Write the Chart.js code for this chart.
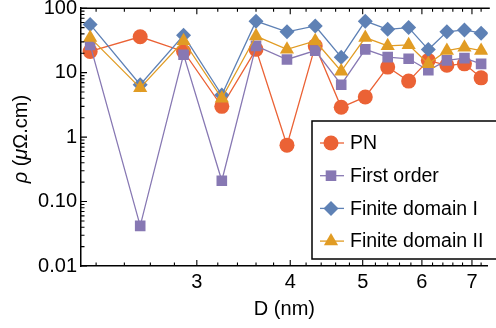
<!DOCTYPE html>
<html lang="en">
<head>
<meta charset="UTF-8">
<title>Resistividade vs D</title>
<script src="https://cdn.jsdelivr.net/npm/chart.js"></script>
<style>
    html, body { margin: 0; padding: 0; background: #fff; }
    #caixa { width: 496px; height: 328px; }
</style>
</head>
<body>
<div id="caixa"><canvas id="grafico"></canvas></div>
<script>
    // D (nm)
    var diametros = [2.16, 2.52, 2.88, 3.24, 3.60, 3.96, 4.32, 4.68, 5.04, 5.40, 5.76, 6.12, 6.48, 6.84, 7.20]

    // rho (uOhm.cm) por serie
    var pn = [21.3, 36, 21.3, 3.0, 23, 0.75, 26, 2.9, 4.2, 12.2, 7.4, 15.5, 13, 13.7, 8.3]
    var primeiraOrdem = [27, 0.042, 19, 0.21, 26, 16, 22, 6.5, 23, 17.4, 16.4, 10.9, 15.5, 16.8, 13.7]
    var dominioFinito1 = [56, 6.5, 38, 4.5, 63, 43, 53, 17.4, 63, 47, 50, 22.8, 43, 46, 41]
    var dominioFinito2 = [35, 5.8, 31, 4.0, 37, 23, 31, 10.5, 35, 26, 27, 13.7, 22, 24.7, 22]

    var nomesSeries = ['PN', 'First order', 'Finite domain I', 'Finite domain II']

    // ticks
    var xTicks = [3, 4, 5, 6, 7]
    var yTicks = [0.01, 0.1, 1, 10, 100]
    var yTickLabels = ['0.01', '0.10', '1', '10', '100']

    var fonte = "'Liberation Sans', Arial, sans-serif"

    function pontos(valores) {
        return diametros.map(function (d, i) { return { x: d, y: valores[i] } })
    }

    function serie(nome, valores, cor, estilo, ordem) {
        return {
            label: nome,
            data: pontos(valores),
            borderColor: cor,
            backgroundColor: cor,
            borderWidth: 1.3,
            pointStyle: estilo,
            pointRadius: estilo == 'triangle' ? 8.2 : 7.5,
            pointBorderWidth: 0,
            pointBackgroundColor: cor,
            order: ordem
        }
    }

    // desenha um marcador simples (legenda)
    function marcador(ctx, estilo, r, x, y) {
        ctx.beginPath()
        if (estilo == 'circle') {
            ctx.arc(x, y, r, 0, Math.PI * 2)
        } else if (estilo == 'rect') {
            var s = r * Math.SQRT1_2
            ctx.rect(x - s, y - s, 2 * s, 2 * s)
        } else if (estilo == 'rectRot') {
            ctx.moveTo(x, y - r); ctx.lineTo(x + r, y); ctx.lineTo(x, y + r); ctx.lineTo(x - r, y)
        } else if (estilo == 'triangle') {
            ctx.moveTo(x, y - r)
            ctx.lineTo(x + r * Math.sin(Math.PI * 2 / 3), y - r * Math.cos(Math.PI * 2 / 3))
            ctx.lineTo(x + r * Math.sin(Math.PI * 4 / 3), y - r * Math.cos(Math.PI * 4 / 3))
        }
        ctx.closePath()
        ctx.fill()
    }

    // moldura, ticks internos, titulo do eixo y e legenda
    const moldura = {
        id: 'moldura',
        afterDraw(chart) {
            const ctx = chart.ctx
            const area = chart.chartArea
            const sx = chart.scales.x
            const sy = chart.scales.y
            ctx.save()
            ctx.strokeStyle = '#000'
            ctx.lineWidth = 1.5
            ctx.beginPath()
            ctx.moveTo(area.left - 0.75, area.top)
            ctx.lineTo(area.right + 2, area.top)
            ctx.stroke()

            ctx.lineWidth = 1.1
            ctx.beginPath()
            // x: menores a cada 0.2
            for (var k = 11; k <= 36; k++) {
                var v = k / 5
                if (v < sx.min || v > sx.max) continue
                var px = sx.getPixelForValue(v)
                var len = (k % 5 == 0) ? 6 : 3.5
                ctx.moveTo(px, area.bottom); ctx.lineTo(px, area.bottom - len)
                ctx.moveTo(px, area.top); ctx.lineTo(px, area.top + len)
            }
            // y: decadas
            for (var e = -2; e <= 2; e++) {
                for (var m = 1; m <= 9; m++) {
                    var val = m * Math.pow(10, e)
                    if (val > 100.001) break
                    var py = sy.getPixelForValue(val)
                    var l = (m == 1) ? 6 : 3.5
                    ctx.moveTo(area.left, py); ctx.lineTo(area.left + l, py)
                }
            }
            ctx.stroke()

            // titulo do eixo y com letras gregas em italico
            var partes = [['ρ', 'italic'], [' (', 'normal'], ['μ', 'italic'], ['Ω.cm)', 'normal']]
            var total = 0
            partes.forEach(function (p) {
                ctx.font = p[1] + ' 20px ' + fonte
                total += ctx.measureText(p[0]).width
            })
            ctx.translate(27, (area.top + area.bottom) / 2 + 2)
            ctx.rotate(-Math.PI / 2)
            ctx.fillStyle = '#000'
            ctx.textBaseline = 'alphabetic'
            var xx = -total / 2
            partes.forEach(function (p) {
                ctx.font = p[1] + ' 20px ' + fonte
                ctx.fillText(p[0], xx, 0)
                xx += ctx.measureText(p[0]).width
            })
            ctx.restore()

            // legenda
            ctx.save()
            var bx = 312, by = 121, bw = 200, bh = 138
            ctx.fillStyle = '#fff'
            ctx.fillRect(bx, by, bw, bh)
            ctx.strokeStyle = '#000'
            ctx.lineWidth = 1.5
            ctx.strokeRect(bx, by, bw, bh)
            ctx.textBaseline = 'middle'
            ctx.font = '19.5px ' + fonte
            chart.data.datasets.forEach(function (ds, i) {
                var yy = by + 22 + i * 32.7
                ctx.strokeStyle = ds.borderColor
                ctx.lineWidth = 1.3
                ctx.beginPath()
                ctx.moveTo(bx + 8, yy); ctx.lineTo(bx + 32, yy)
                ctx.stroke()
                ctx.fillStyle = ds.backgroundColor
                marcador(ctx, ds.pointStyle, ds.pointRadius, bx + 19, yy)
                ctx.fillStyle = '#000'
                ctx.fillText(ds.label, bx + 38, yy + 1)
            })
            ctx.restore()
        }
    }

    const grafico = new Chart(document.getElementById('grafico'), {
        type: 'line',
        data: {
            datasets: [
                serie(nomesSeries[0], pn, '#EB6235', 'circle', 4),
                serie(nomesSeries[1], primeiraOrdem, '#8778B3', 'rect', 3),
                serie(nomesSeries[2], dominioFinito1, '#5E81B5', 'rectRot', 2),
                serie(nomesSeries[3], dominioFinito2, '#E19C24', 'triangle', 1)
            ]
        },
        options: {
            responsive: true,
            maintainAspectRatio: false,
            animation: false,
            devicePixelRatio: 1,
            layout: { padding: { top: 5, left: 0, right: 0, bottom: 0 } },
            plugins: {
                legend: { display: false },
                tooltip: { enabled: false }
            },
            scales: {
                x: {
                    type: 'logarithmic',
                    min: 2.1,
                    max: 7.35,
                    grid: { display: false, drawTicks: false },
                    border: { display: true, color: '#000', width: 1.5 },
                    afterBuildTicks: function (eixo) {
                        eixo.ticks = xTicks.map(function (v) { return { value: v } })
                    },
                    afterFit: function (eixo) {
                        eixo.height = 62
                        eixo.paddingLeft = 0
                        eixo.paddingRight = 0
                    },
                    ticks: {
                        autoSkip: false,
                        maxRotation: 0,
                        padding: 4,
                        color: '#000',
                        font: { family: fonte, size: 20 },
                        callback: function (valor) { return String(valor) }
                    },
                    title: {
                        display: true,
                        text: 'D (nm)',
                        color: '#000',
                        font: { family: fonte, size: 20 },
                        padding: { top: 0, bottom: 7 }
                    }
                },
                y: {
                    type: 'logarithmic',
                    min: 0.01,
                    max: 100,
                    grid: { display: false, drawTicks: false },
                    border: { display: true, color: '#000', width: 1.5 },
                    afterBuildTicks: function (eixo) {
                        eixo.ticks = yTicks.map(function (v) { return { value: v } })
                    },
                    afterFit: function (eixo) {
                        eixo.width = 81
                        eixo.paddingTop = 0
                        eixo.paddingBottom = 0
                    },
                    ticks: {
                        padding: 4,
                        color: '#000',
                        font: { family: fonte, size: 20 },
                        callback: function (valor) {
                            var i = yTicks.indexOf(valor)
                            return i >= 0 ? yTickLabels[i] : ''
                        }
                    }
                }
            }
        },
        plugins: [moldura]
    })
</script>
</body>
</html>
